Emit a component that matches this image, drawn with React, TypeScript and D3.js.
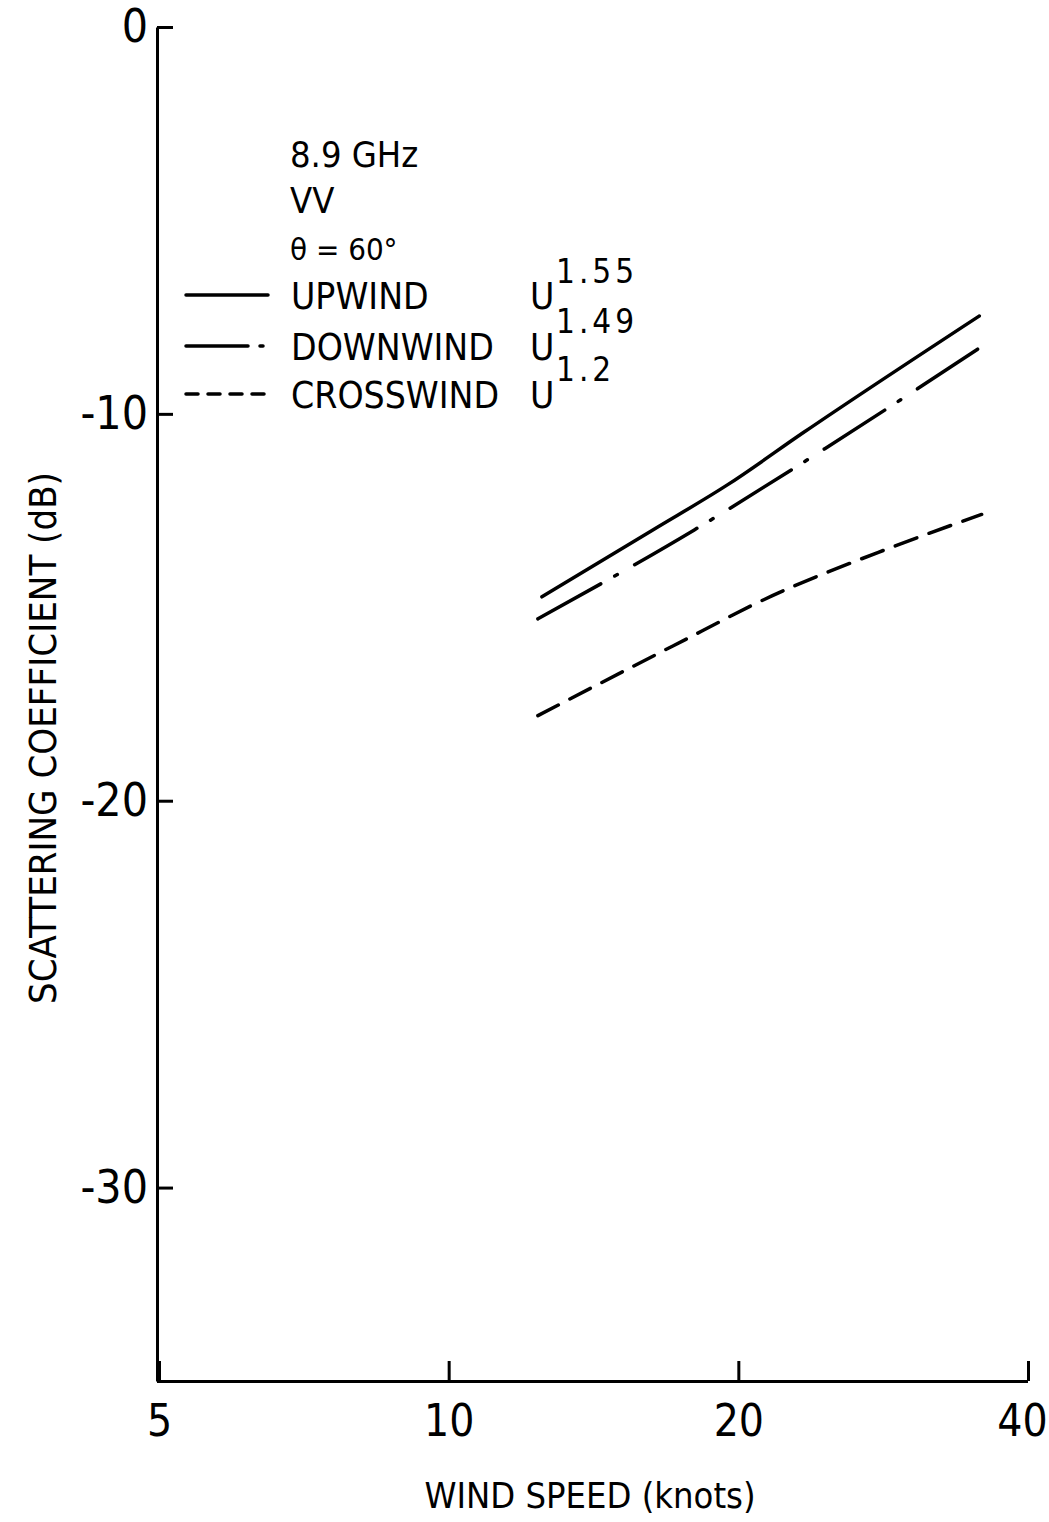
import React, { useEffect, useRef } from "react";
import * as d3 from "d3";

// values (wind speed in knots, sigma0 in dB)
const xTicks = [5, 10, 20, 40];
const yTicks = [0, -10, -20, -30];

const upwindSpeed = [12.5, 16.3, 19.5, 23.35, 35.6];
const upwindDb = [-14.73, -13.0, -11.83, -10.49, -7.47];

const downwindSpeed = [12.38, 18.0, 24.6, 35.6];
const downwindDb = [-15.3, -13.0, -10.9, -8.3];

const crosswindSpeed = [12.38, 17.1, 21.7, 28.5, 35.8];
const crosswindDb = [-17.8, -16.0, -14.7, -13.5, -12.6];

const headerLines = ["8.9 GHz", "VV", "θ = 60°"];
const legendNames = ["UPWIND", "DOWNWIND", "CROSSWIND"];
const legendExponents = ["1.55", "1.49", "1.2"];

const FONT = "'DejaVu Sans Condensed', 'Liberation Sans', sans-serif";

const App = () => {
  const svgRef = useRef<SVGSVGElement | null>(null);

  const width = 1049;
  const height = 1522;
  const margin = { top: 27, right: 21, bottom: 141, left: 157 };

  useEffect(() => {
    drawGraph();
  }, []);

  function drawGraph() {
    const svgEl = d3.select(svgRef.current);
    svgEl.selectAll("*").remove();

    const xScale = d3
      .scaleLog()
      .domain([5, 40])
      .range([margin.left + 2, width - margin.right]);

    const yScale = d3
      .scaleLinear()
      .domain([-35, 0])
      .range([height - margin.bottom, margin.top]);

    // y axis, ticks pointing inward
    const yAxis = d3
      .axisLeft(yScale)
      .tickValues(yTicks)
      .tickSizeInner(-16)
      .tickSizeOuter(0)
      .tickPadding(9)
      .tickFormat((d) => String(d));

    const yAxisGroup = svgEl
      .append("g")
      .attr("transform", `translate(${margin.left}, 0)`)
      .call(yAxis);

    yAxisGroup.select(".domain").attr("stroke", "#000").attr("stroke-width", 3);
    yAxisGroup.selectAll(".tick line").attr("stroke", "#000").attr("stroke-width", 3);
    yAxisGroup
      .selectAll(".tick text")
      .attr("font-family", FONT)
      .attr("font-size", 46)
      .attr("fill", "#000");

    // x axis, ticks pointing up
    const xAxis = d3
      .axisBottom(xScale)
      .tickValues(xTicks)
      .tickSizeInner(-20)
      .tickSizeOuter(0)
      .tickPadding(24)
      .tickFormat((d) => String(d));

    const xAxisGroup = svgEl
      .append("g")
      .attr("transform", `translate(0, ${height - margin.bottom})`)
      .call(xAxis);

    xAxisGroup
      .select(".domain")
      .attr("stroke", "#000")
      .attr("stroke-width", 3)
      .attr("d", `M${margin.left},0.5H${xScale(40)}`);
    xAxisGroup.selectAll(".tick line").attr("stroke", "#000").attr("stroke-width", 3);
    xAxisGroup
      .selectAll(".tick text")
      .attr("font-family", FONT)
      .attr("font-size", 44)
      .attr("fill", "#000")
      .attr("dx", (d) => (d === 40 ? -6 : 0));

    // axis titles
    svgEl
      .append("text")
      .attr("transform", `translate(56, 738) rotate(-90)`)
      .attr("text-anchor", "middle")
      .attr("font-family", FONT)
      .attr("font-size", 38)
      .text("SCATTERING COEFFICIENT (dB)");

    svgEl
      .append("text")
      .attr("x", 590)
      .attr("y", 1508)
      .attr("text-anchor", "middle")
      .attr("font-family", FONT)
      .attr("font-size", 36)
      .text("WIND SPEED (knots)");

    // curves
    const series = [
      { speed: upwindSpeed, db: upwindDb, dash: null },
      { speed: downwindSpeed, db: downwindDb, dash: "72 16 3 20" },
      { speed: crosswindSpeed, db: crosswindDb, dash: "23 13" },
    ];

    const line = d3
      .line<[number, number]>()
      .x((d) => xScale(d[0]))
      .y((d) => yScale(d[1]))
      .curve(d3.curveMonotoneX);

    series.forEach((s) => {
      const pts: [number, number][] = s.speed.map((v, i) => [v, s.db[i]]);
      svgEl
        .append("path")
        .attr("d", line(pts))
        .attr("fill", "none")
        .attr("stroke", "#000")
        .attr("stroke-width", 3.5)
        .attr("stroke-linecap", "round")
        .attr("stroke-dasharray", s.dash);
    });

    // legend block
    const headerY = [167, 213, 260];
    headerLines.forEach((t, i) => {
      svgEl
        .append("text")
        .attr("x", 290)
        .attr("y", headerY[i])
        .attr("font-family", FONT)
        .attr("font-size", i === 2 ? 31 : 36)
        .text(t);
    });

    const rowY = [309, 360, 408];
    const supY = [283, 333, 381];
    const swatchDash = [null, "62 12 3 20", "12 10"];
    legendNames.forEach((name, i) => {
      svgEl
        .append("line")
        .attr("x1", 186)
        .attr("x2", 268)
        .attr("y1", rowY[i] - 14)
        .attr("y2", rowY[i] - 14)
        .attr("stroke", "#000")
        .attr("stroke-width", 3.5)
        .attr("stroke-linecap", "round")
        .attr("stroke-dasharray", swatchDash[i]);

      svgEl
        .append("text")
        .attr("x", 291)
        .attr("y", rowY[i])
        .attr("font-family", FONT)
        .attr("font-size", 37)
        .text(name);

      svgEl
        .append("text")
        .attr("x", 530)
        .attr("y", rowY[i])
        .attr("font-family", FONT)
        .attr("font-size", 37)
        .text("U");

      svgEl
        .append("text")
        .attr("x", 556)
        .attr("y", supY[i])
        .attr("font-family", FONT)
        .attr("font-size", 33)
        .attr("letter-spacing", 4)
        .text(legendExponents[i]);
    });
  }

  return (
    <div id="windScatterContainer">
      <svg
        ref={svgRef}
        width={width}
        height={height}
        style={{ position: "absolute", left: 0, top: 0, background: "#fff" }}
      ></svg>
    </div>
  );
};

export default App;
